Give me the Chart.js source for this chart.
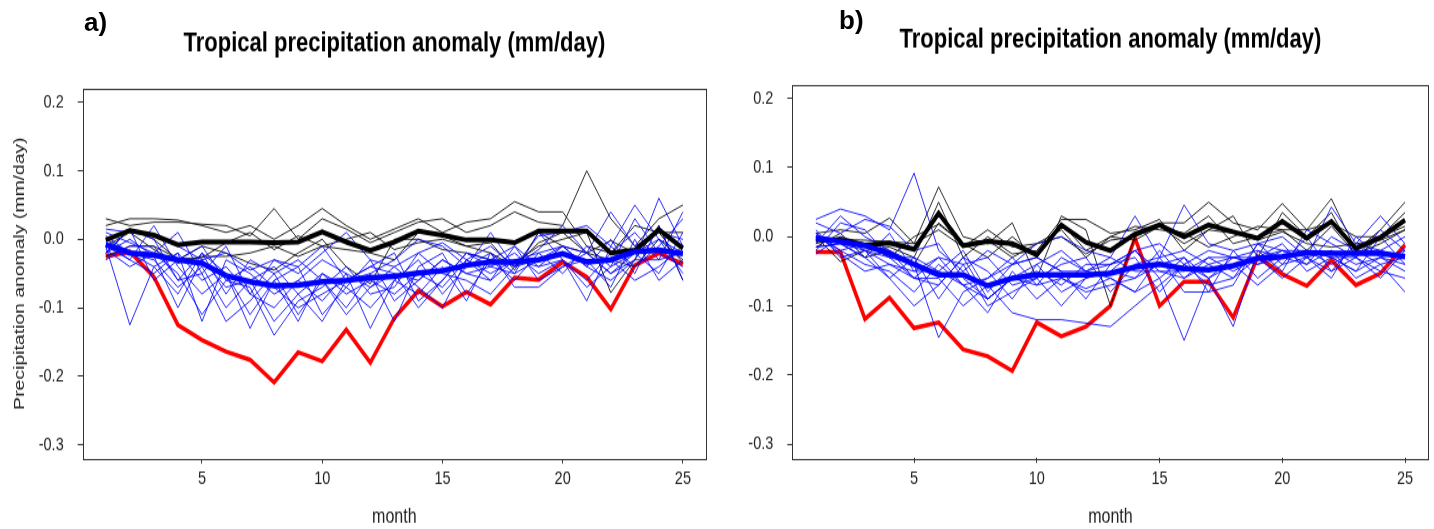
<!DOCTYPE html>
<html>
<head>
<meta charset="utf-8">
<script src="https://cdn.jsdelivr.net/npm/chart.js@4.4.1/dist/chart.umd.min.js"></script>
<style>
  body { margin: 0; background: #fff; }
  #wrap { position: relative; width: 1434px; height: 529px; overflow: hidden; background: #fff; }
  canvas { position: absolute; top: 0; transform-origin: 0 0; transform: scaleY(1.2506); }
  .tag { position: absolute; font-family: 'Liberation Sans', Arial, sans-serif; font-weight: bold; font-size: 26px; line-height: 26px; color: #000; }
</style>
</head>
<body>
<div id="wrap">
  <canvas id="chartA" width="717" height="423" style="left:0"></canvas>
  <canvas id="chartB" width="717" height="423" style="left:717px"></canvas>
  <div class="tag" style="left:84px;top:9px">a)</div>
  <div class="tag" style="left:839px;top:7px">b)</div>
</div>
<script>
// kuukaudet ja akselien tikit
const months = [1,2,3,4,5,6,7,8,9,10,11,12,13,14,15,16,17,18,19,20,21,22,23,24,25]
const xTicks = [5, 10, 15, 20, 25]
const yTicks = [-0.3, -0.2, -0.1, 0.0, 0.1, 0.2]

// ---- paneeli a) ----
const obsA = [-0.025,-0.018,-0.055,-0.125,-0.147,-0.164,-0.176,-0.209,-0.165,-0.178,-0.132,-0.180,-0.115,-0.075,-0.098,-0.077,-0.095,-0.056,-0.059,-0.033,-0.055,-0.102,-0.038,-0.020,-0.036]
const meanBlackA = [-0.001,0.013,0.006,-0.008,-0.004,-0.004,-0.004,-0.005,-0.004,0.011,-0.004,-0.016,-0.004,0.012,0.006,-0.001,-0.001,-0.005,0.012,0.012,0.012,-0.020,-0.016,0.014,-0.013]
const meanBlueA = [-0.008,-0.020,-0.023,-0.030,-0.035,-0.053,-0.062,-0.068,-0.067,-0.062,-0.060,-0.056,-0.054,-0.049,-0.046,-0.038,-0.033,-0.033,-0.030,-0.021,-0.033,-0.030,-0.018,-0.016,-0.021]

const blackA1 = [0.030,0.020,0.025,0.025,0.022,0.020,0.005,0.045,0.000,0.030,0.015,-0.005,0.010,0.025,0.030,0.010,0.020,0.040,0.025,0.020,0.100,0.030,-0.010,0.030,0.050]
const blackA2 = [0.020,0.030,0.030,0.028,0.020,0.010,0.020,0.000,0.020,0.045,0.020,0.000,0.015,0.030,0.010,0.025,0.030,0.055,0.040,0.040,-0.010,-0.020,0.020,0.010,0.010]
const blackA3 = [-0.020,0.015,0.000,-0.030,-0.010,-0.020,-0.035,-0.045,-0.020,0.000,-0.040,-0.065,0.000,0.000,-0.015,-0.020,-0.030,-0.035,-0.010,0.000,0.010,-0.078,-0.030,0.020,-0.060]
const blackA4 = [-0.010,0.010,-0.015,-0.035,-0.025,-0.025,-0.020,-0.010,-0.025,-0.010,-0.015,-0.020,-0.030,0.010,0.005,-0.010,-0.020,-0.040,-0.005,0.010,-0.020,-0.030,-0.040,0.000,-0.030]
const blackA5 = [-0.025,-0.010,-0.010,-0.028,-0.027,-0.005,0.010,-0.015,0.005,-0.010,0.000,0.010,-0.015,-0.005,0.000,-0.010,-0.005,-0.045,0.010,-0.010,-0.020,-0.002,-0.020,0.010,-0.035]

const blueA1 = [0.015,0.010,0.005,-0.010,-0.030,-0.020,-0.045,-0.030,-0.050,-0.020,0.010,-0.030,-0.040,-0.020,-0.005,-0.030,-0.010,-0.040,-0.015,0.020,-0.020,0.040,-0.010,0.010,0.000]
const blueA2 = [-0.010,-0.125,-0.040,-0.020,-0.060,-0.040,-0.080,-0.100,-0.060,-0.090,-0.050,-0.070,-0.050,-0.060,-0.030,-0.050,-0.040,-0.020,-0.050,-0.030,-0.060,-0.020,0.010,-0.030,-0.020]
const blueA3 = [0.000,-0.020,-0.030,-0.070,-0.040,-0.100,-0.060,-0.120,-0.080,-0.050,-0.080,-0.060,-0.080,-0.050,-0.070,-0.030,-0.060,-0.030,-0.040,-0.010,-0.040,-0.060,-0.030,0.060,-0.010]
const blueA4 = [-0.020,0.015,-0.060,-0.030,-0.010,-0.060,-0.040,-0.070,-0.100,-0.080,-0.060,-0.040,-0.020,-0.090,-0.060,-0.020,-0.030,-0.060,-0.020,-0.050,-0.010,-0.040,0.030,-0.020,-0.040]
const blueA5 = [-0.005,-0.030,0.020,-0.040,-0.080,-0.050,-0.110,-0.060,-0.040,-0.110,-0.070,-0.100,-0.060,-0.030,-0.080,-0.040,-0.020,-0.050,0.010,-0.030,-0.090,-0.010,-0.040,-0.010,0.030]
const blueA6 = [-0.030,-0.010,-0.010,-0.060,-0.020,-0.080,-0.030,-0.050,-0.030,-0.060,-0.100,-0.050,-0.120,-0.040,-0.020,-0.080,-0.030,-0.010,-0.060,-0.040,-0.020,-0.050,-0.020,0.000,-0.050]
const blueA7 = [0.010,-0.005,-0.020,-0.050,-0.110,-0.060,-0.070,-0.140,-0.090,-0.070,-0.040,-0.080,-0.070,-0.020,-0.050,-0.060,-0.080,-0.040,-0.030,-0.020,-0.030,-0.030,-0.060,-0.040,-0.010]
const blueA8 = [-0.015,-0.040,-0.020,0.010,-0.050,-0.120,-0.090,-0.050,-0.110,-0.060,-0.110,-0.070,-0.040,-0.070,-0.100,-0.030,-0.050,-0.030,-0.020,-0.010,-0.040,0.000,-0.050,0.020,-0.060]
const blueA9 = [-0.010,-0.030,-0.050,-0.020,-0.120,-0.030,-0.050,-0.080,-0.060,-0.030,-0.050,-0.130,-0.060,-0.080,-0.040,-0.090,-0.020,-0.070,-0.070,-0.040,-0.030,-0.070,0.000,-0.060,-0.030]
const blueA10 = [0.005,-0.020,-0.040,-0.080,-0.020,-0.050,-0.130,-0.060,-0.120,-0.050,-0.070,-0.030,-0.090,-0.060,-0.030,-0.050,-0.060,-0.010,-0.040,-0.030,-0.070,-0.040,-0.020,-0.050,0.010]
const blueA11 = [-0.020,0.000,-0.025,-0.100,-0.030,-0.070,-0.060,-0.040,-0.080,-0.120,-0.060,-0.040,-0.050,-0.100,-0.060,-0.020,-0.040,-0.050,-0.030,-0.010,-0.020,-0.050,-0.030,-0.030,0.040]
const blueA12 = [-0.020,0.015,0.000,-0.060,-0.050,-0.010,-0.080,-0.030,-0.040,-0.010,-0.060,-0.050,-0.030,0.000,-0.010,-0.040,0.010,-0.040,0.005,0.010,0.020,-0.010,0.050,0.000,-0.020]

// ---- paneeli b) ----
const obsB = [-0.022,-0.022,-0.119,-0.088,-0.132,-0.124,-0.163,-0.173,-0.194,-0.124,-0.144,-0.130,-0.100,-0.002,-0.100,-0.065,-0.065,-0.117,-0.029,-0.054,-0.071,-0.034,-0.070,-0.053,-0.012]
const meanBlackB = [-0.004,-0.005,-0.012,-0.009,-0.018,0.034,-0.013,-0.007,-0.010,-0.026,0.017,-0.008,-0.020,0.004,0.017,0.000,0.017,0.007,-0.002,0.022,-0.002,0.022,-0.017,-0.001,0.024]
const meanBlueB = [-0.002,-0.007,-0.013,-0.024,-0.040,-0.055,-0.055,-0.071,-0.060,-0.055,-0.055,-0.055,-0.053,-0.044,-0.040,-0.046,-0.048,-0.042,-0.031,-0.029,-0.023,-0.024,-0.024,-0.024,-0.029]

const blackB1 = [0.005,0.010,0.005,0.027,-0.010,0.072,0.000,-0.010,0.020,-0.060,0.030,0.010,-0.100,0.000,0.020,0.020,0.050,0.020,0.010,0.048,0.010,0.055,-0.020,0.010,0.050]
const blackB2 = [0.000,-0.036,-0.020,-0.015,-0.030,0.050,-0.030,0.000,-0.025,-0.020,0.025,0.025,0.005,0.010,0.025,-0.020,0.010,0.030,-0.030,0.035,0.000,0.035,-0.030,0.000,0.035]
const blackB3 = [-0.015,0.005,-0.030,-0.020,-0.040,0.020,-0.010,-0.005,-0.030,-0.010,0.010,-0.030,0.000,-0.005,0.015,0.005,-0.015,0.000,0.015,0.010,-0.020,0.015,-0.025,-0.010,0.010]
const blackB4 = [-0.010,0.000,-0.010,-0.030,0.000,0.018,-0.010,-0.030,0.000,-0.030,0.020,-0.020,0.000,0.015,0.010,0.005,0.030,-0.010,0.000,0.010,0.010,0.020,0.000,0.000,0.015]
const blackB5 = [0.000,-0.004,-0.005,-0.007,-0.010,0.010,-0.015,0.010,-0.015,-0.010,0.000,-0.025,-0.005,0.000,0.015,-0.010,0.010,0.005,-0.005,0.007,-0.010,-0.015,-0.010,-0.005,0.010]

const blueB1 = [0.025,0.040,0.030,0.010,0.092,-0.020,-0.050,-0.020,-0.040,-0.010,0.000,-0.020,-0.030,0.030,-0.030,0.046,-0.010,-0.020,-0.010,0.000,-0.030,0.043,-0.010,0.030,-0.010]
const blueB2 = [-0.020,0.020,0.010,-0.030,-0.040,-0.146,-0.080,-0.060,-0.030,-0.070,-0.030,-0.050,-0.060,-0.080,-0.060,-0.150,-0.060,-0.030,-0.040,-0.020,-0.040,-0.020,-0.040,-0.030,-0.050]
const blueB3 = [0.020,0.005,0.025,0.015,-0.020,-0.010,-0.060,-0.090,-0.060,-0.050,-0.070,-0.040,-0.040,-0.020,-0.010,-0.040,-0.060,-0.130,-0.020,-0.050,0.010,-0.010,-0.030,-0.060,-0.020]
const blueB4 = [-0.010,0.030,0.000,-0.020,-0.060,-0.070,-0.030,-0.050,-0.090,-0.040,-0.080,-0.060,-0.050,-0.020,-0.060,-0.030,-0.080,-0.020,-0.060,-0.030,-0.020,-0.040,-0.020,-0.040,-0.080]
const blueB5 = [0.000,-0.020,-0.040,-0.050,-0.080,-0.040,-0.070,-0.110,-0.050,-0.090,-0.060,-0.080,-0.070,-0.060,-0.020,-0.060,-0.030,-0.050,-0.030,-0.010,-0.050,-0.030,-0.050,0.000,-0.040]
const blueB6 = [-0.025,0.000,-0.020,-0.060,-0.030,-0.090,-0.040,-0.030,-0.070,-0.060,-0.040,-0.030,-0.080,-0.040,-0.030,-0.020,-0.040,-0.060,-0.010,-0.040,-0.030,-0.050,-0.030,-0.050,-0.060]
const blueB7 = [0.010,-0.030,-0.020,-0.040,-0.060,-0.060,-0.100,-0.070,-0.110,-0.120,-0.120,-0.125,-0.130,-0.100,-0.070,-0.040,-0.020,-0.030,-0.040,-0.030,-0.020,-0.030,-0.050,-0.030,-0.040]
const blueB8 = [-0.015,-0.010,-0.030,0.005,-0.050,-0.030,-0.040,-0.100,-0.080,-0.060,-0.100,-0.060,-0.050,-0.060,-0.040,-0.030,-0.060,-0.040,-0.070,-0.040,0.000,-0.050,-0.010,-0.020,-0.030]
const blueB9 = [0.005,-0.025,-0.050,-0.040,-0.050,-0.050,-0.020,-0.080,-0.040,-0.030,-0.050,-0.090,-0.040,-0.030,-0.080,-0.040,-0.070,-0.060,-0.030,-0.060,-0.030,-0.020,-0.060,-0.040,-0.030]
const blueB10 = [-0.015,-0.010,-0.030,-0.060,-0.100,-0.070,-0.030,-0.090,-0.060,-0.040,-0.020,-0.050,-0.030,-0.050,-0.050,-0.060,-0.040,-0.030,-0.020,-0.030,-0.040,0.000,-0.020,-0.020,0.000]
const blueB11 = [0.000,-0.010,-0.020,-0.030,-0.030,-0.050,-0.070,-0.060,-0.040,-0.030,-0.050,-0.050,-0.040,-0.020,-0.050,-0.050,-0.030,-0.030,-0.030,-0.020,-0.030,-0.060,0.000,-0.030,-0.020]
const blueB12 = [0.005,-0.020,-0.010,-0.030,-0.060,-0.030,-0.070,-0.090,-0.060,-0.070,-0.060,-0.075,-0.060,-0.080,-0.030,-0.080,-0.080,-0.070,-0.010,-0.020,-0.020,-0.030,-0.030,0.010,-0.020]

const blackRunsA = [blackA1, blackA2, blackA3, blackA4, blackA5]
const blueRunsA = [blueA1, blueA2, blueA3, blueA4, blueA5, blueA6, blueA7, blueA8, blueA9, blueA10, blueA11, blueA12]
const blackRunsB = [blackB1, blackB2, blackB3, blackB4, blackB5]
const blueRunsB = [blueB1, blueB2, blueB3, blueB4, blueB5, blueB6, blueB7, blueB8, blueB9, blueB10, blueB11, blueB12]

Chart.defaults.font.family = "'Liberation Sans', Arial, sans-serif"
Chart.defaults.color = '#222'

// viiva datasetiksi
function line(values, color, width) {
  return {
    data: values.map((v, i) => ({ x: months[i], y: v })),
    borderColor: color,
    borderWidth: width,
    pointRadius: 0,
    tension: 0,
    fill: false
  }
}

// laatikko piirtoalueen ympärille
const boxPlugin = {
  id: 'box',
  afterDraw(chart) {
    const a = chart.chartArea
    const ctx = chart.ctx
    ctx.save()
    ctx.strokeStyle = '#333'
    ctx.lineWidth = 1
    ctx.strokeRect(Math.round(a.left) + 0.5, Math.round(a.top) + 0.5, Math.round(a.right - a.left), Math.round(a.bottom - a.top))
    ctx.restore()
  }
}

function drawPanel(id, obs, meanBlack, meanBlue, blackRuns, blueRuns, p) {
  // järjestys: ensimmäinen dataset piirtyy päällimmäiseksi
  const datasets = []
  datasets.push(line(meanBlue, '#0000ff', 4.5))
  datasets.push(line(meanBlack, '#000000', 4))
  blueRuns.forEach(r => datasets.push(line(r, 'rgba(0,0,255,0.85)', 1)))
  blackRuns.forEach(r => datasets.push(line(r, 'rgba(0,0,0,0.85)', 1)))
  datasets.push(line(obs, '#ff0000', 3.5))

  new Chart(document.getElementById(id), {
    type: 'line',
    data: { datasets: datasets },
    plugins: [boxPlugin],
    options: {
      responsive: false,
      animation: false,
      events: [],
      layout: { padding: { left: 0, right: p.right, top: 0, bottom: 0 } },
      plugins: {
        legend: { display: false },
        tooltip: { enabled: false },
        title: {
          display: true,
          fullSize: false,
          text: 'Tropical precipitation anomaly (mm/day)',
          color: '#000',
          font: { size: 22, weight: 'bold' },
          padding: { top: p.titleTop, bottom: p.titleBottom }
        }
      },
      scales: {
        x: {
          type: 'linear',
          min: 0.04,
          max: 25.96,
          afterBuildTicks: s => { s.ticks = xTicks.map(v => ({ value: v })) },
          afterFit: s => { s.height = p.xHeight },
          grid: { drawOnChartArea: false, drawTicks: true, tickLength: 4, color: '#333' },
          border: { display: false },
          ticks: { font: { size: 14.5 }, padding: 4, maxRotation: 0, callback: v => String(v) },
          title: { display: true, text: 'month', font: { size: 16 }, padding: { top: 0, bottom: 0 }, color: '#222' }
        },
        y: {
          type: 'linear',
          min: -0.32,
          max: 0.22,
          afterBuildTicks: s => { s.ticks = yTicks.map(v => ({ value: v })) },
          afterFit: s => { s.width = p.yWidth },
          grid: { drawOnChartArea: false, drawTicks: true, tickLength: 5, color: '#333' },
          border: { display: false },
          ticks: { font: { size: 14.5 }, padding: 14, callback: v => v.toFixed(1) },
          title: { display: p.yTitle, text: 'Precipitation anomaly (mm/day)', font: { size: 15.5 }, padding: { top: 10, bottom: 0 }, color: '#222' }
        }
      }
    }
  })
}

drawPanel('chartA', obsA, meanBlackA, meanBlueA, blackRunsA, blueRunsA,
  { right: 11, yWidth: 82.7, xHeight: 56.4, titleTop: 22.2, titleBottom: 22.2, yTitle: true })
drawPanel('chartB', obsB, meanBlackB, meanBlueB, blackRunsB, blueRunsB,
  { right: 5.4, yWidth: 75.3, xHeight: 56.8, titleTop: 18.5, titleBottom: 22.7, yTitle: false })
</script>
</body>
</html>
